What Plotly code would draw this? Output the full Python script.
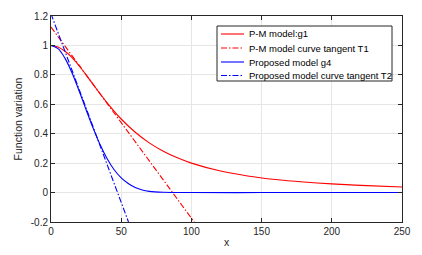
import plotly.graph_objects as go

# P-M model g1
g1_x = [0, 5, 10, 15, 20, 25, 30, 40, 50, 60, 70, 80, 90, 100, 120, 140, 160, 180, 200, 225, 250]
g1_y = [1.0, 0.99, 0.96, 0.917, 0.862, 0.80, 0.735, 0.61, 0.50, 0.41, 0.338, 0.281, 0.236, 0.20, 0.148, 0.113, 0.089, 0.072, 0.059, 0.047, 0.038]

# Tangent T1 endpoints
t1_x = [0, 102]
t1_y = [1.125, -0.2]

# Proposed model g4
g4_x = [0, 5, 10, 15, 20, 25, 30, 35, 40, 45, 50, 55, 60, 65, 70, 80, 100, 150, 200, 250]
g4_y = [1.0, 0.978, 0.912, 0.813, 0.692, 0.563, 0.438, 0.325, 0.23, 0.155, 0.10, 0.062, 0.034, 0.017, 0.008, 0.002, 0.0, 0.0, 0.0, 0.0]

# Tangent T2 endpoints
t2_x = [0, 55.2]
t2_y = [1.215, -0.2]

names = ["P-M model:g1", "P-M model curve tangent T1", "Proposed model g4", "Proposed model curve tangent T2"]
colors = ["#ff0000", "#ff0000", "#0000ff", "#0000ff"]
dashes = ["solid", "dashdot", "solid", "dashdot"]

x_ticks = [0, 50, 100, 150, 200, 250]
y_ticks = [-0.2, 0, 0.2, 0.4, 0.6, 0.8, 1, 1.2]
y_ticktext = ["-0.2", "0", "0.2", "0.4", "0.6", "0.8", "1", "1.2"]

FONT = "Liberation Sans, Arial, sans-serif"
W, H = 422, 255
ML, MR, MT, MB = 51, 20, 16, 33
PW, PH = W - ML - MR, H - MT - MB
DASHDOT = "6px,2px,1.5px,2px"

def px(xp):
    return (xp - ML) / PW

def py(yp):
    return (H - MB - yp) / PH

fig = go.Figure()
series = [(g1_x, g1_y), (t1_x, t1_y), (g4_x, g4_y), (t2_x, t2_y)]
for (xs, ys), n, c, d in zip(series, names, colors, dashes):
    fig.add_trace(go.Scatter(x=xs, y=ys, mode="lines", name=n, showlegend=False,
                             hoverinfo="skip",
                             line=dict(color=c, width=1.1,
                                       dash=("solid" if d == "solid" else DASHDOT),
                                       shape="spline" if d == "solid" else "linear")))

# custom legend (MATLAB-like compact box)
shapes = [dict(type="rect", xref="paper", yref="paper",
               x0=px(217), x1=px(392), y0=py(81), y1=py(26),
               line=dict(color="#262626", width=1), fillcolor="white", layer="above")]
annotations = []
row_y = [34, 48, 62, 75.5]
for n, c, d, ry in zip(names, colors, dashes, row_y):
    shapes.append(dict(type="line", xref="paper", yref="paper",
                       x0=px(221), x1=px(244), y0=py(ry), y1=py(ry),
                       line=dict(color=c, width=1.1, dash=("solid" if d == "solid" else DASHDOT)),
                       layer="above"))
    annotations.append(dict(xref="paper", yref="paper", x=px(246.5), y=py(ry),
                            xanchor="left", yanchor="middle", text=n, showarrow=False,
                            font=dict(family=FONT, size=9.5, color="#000000")))

axis_common = dict(showline=True, linecolor="#262626", linewidth=1, mirror="ticks",
                   ticks="inside", ticklen=4, tickcolor="#262626", automargin=False,
                   showgrid=True, gridcolor="#e6e6e6", gridwidth=1, zeroline=False,
                   tickfont=dict(family=FONT, size=10, color="#262626"))

fig.update_layout(
    width=W, height=H,
    margin=dict(l=ML, r=MR, t=MT, b=MB),
    paper_bgcolor="white", plot_bgcolor="white",
    font=dict(family=FONT, size=10, color="#262626"),
    showlegend=False,
    hovermode=False,
    shapes=shapes,
    annotations=annotations,
    xaxis=dict(range=[0, 250], tickvals=x_ticks,
               title=dict(text="x", standoff=2, font=dict(size=10.5)), **axis_common),
    yaxis=dict(range=[-0.2, 1.2], tickvals=y_ticks, ticktext=y_ticktext,
               title=dict(text="Function variation", standoff=6, font=dict(size=10.5)), **axis_common),
)

fig.write_html("out.html", config={"displayModeBar": False, "staticPlot": True},
               post_script="document.body.style.margin='0';document.body.style.padding='0';")
